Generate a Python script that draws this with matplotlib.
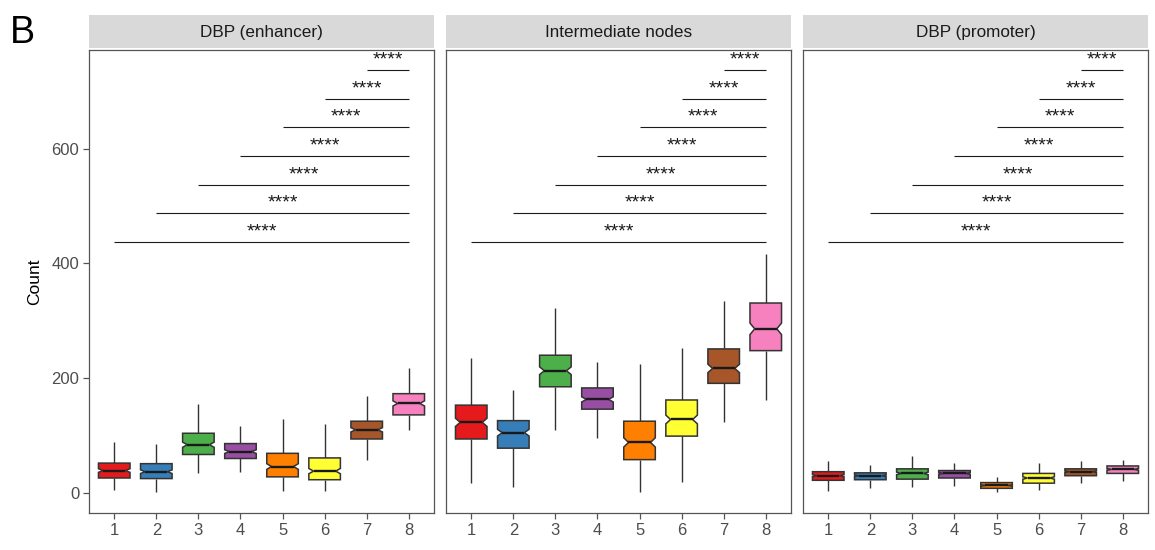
import matplotlib
matplotlib.use("Agg")
import matplotlib.pyplot as plt
from matplotlib.patches import Polygon
import numpy as np

plt.rcParams['font.family'] = ['Liberation Sans', 'DejaVu Sans']

panels = ["DBP (enhancer)", "Intermediate nodes", "DBP (promoter)"]
groups = [1, 2, 3, 4, 5, 6, 7, 8]
colors = ["#E41A1C", "#377EB8", "#4DAF4A", "#984EA3",
          "#FF7F00", "#FFFF33", "#A65628", "#F781BF"]

# whisker low, q1, median, q3, whisker high
enh_wlo = [5, 1, 35, 37, 4, 3, 58, 110]
enh_q1 = [26, 25, 67, 60, 28, 23, 94, 136]
enh_med = [39, 37, 84, 72, 46, 38, 110, 156]
enh_q3 = [52, 51, 104, 86, 69, 61, 125, 173]
enh_whi = [88, 85, 155, 117, 128, 120, 169, 218]

int_wlo = [18, 11, 110, 96, 1, 19, 124, 162]
int_q1 = [94, 78, 185, 146, 58, 99, 191, 248]
int_med = [123, 105, 213, 163, 88, 128, 217, 286]
int_q3 = [153, 126, 240, 183, 125, 162, 251, 331]
int_whi = [235, 180, 322, 228, 225, 253, 335, 416]

pro_wlo = [4, 9, 10, 12, 1, 5, 17, 21]
pro_q1 = [22, 23, 24, 26, 8, 17, 30, 34]
pro_med = [30, 30, 34, 34, 13, 26, 37, 41]
pro_q3 = [37, 35, 42, 39, 18, 34, 42, 47]
pro_whi = [56, 48, 65, 53, 27, 53, 56, 58]

n_per_group = 170  # observations per box (sets notch height)

# comparison brackets: group i vs 8, bracket height
comp_from = [1, 2, 3, 4, 5, 6, 7]
comp_to = [8, 8, 8, 8, 8, 8, 8]
comp_y = [438, 488, 537, 588, 638, 687, 738]
comp_label = ["****"] * 7

panel_data = [
    (enh_wlo, enh_q1, enh_med, enh_q3, enh_whi),
    (int_wlo, int_q1, int_med, int_q3, int_whi),
    (pro_wlo, pro_q1, pro_med, pro_q3, pro_whi),
]

W, H = 1155, 550
fig = plt.figure(figsize=(W / 100, H / 100), dpi=100)

lefts = [89, 446, 803]
pw = 345
ptop, pbot = 50, 513
strip_top = 15

edge = "#333333"
tickc = "#4D4D4D"
box_w = 0.75
indent_frac = 0.15

for k, (name, data) in enumerate(zip(panels, panel_data)):
    wlo, q1, med, q3, whi = data
    ax = fig.add_axes([lefts[k] / W, 1 - pbot / H, pw / W, (pbot - ptop) / H])
    for i, x in enumerate(groups):
        iqr = q3[i] - q1[i]
        half = 1.58 * iqr / np.sqrt(n_per_group)
        nlo, nhi = med[i] - half, med[i] + half
        xl, xr = x - box_w / 2, x + box_w / 2
        ind = indent_frac * box_w
        # whiskers
        ax.plot([x, x], [q3[i], whi[i]], color=edge, lw=1.0, zorder=2, solid_capstyle='butt')
        ax.plot([x, x], [wlo[i], q1[i]], color=edge, lw=1.0, zorder=2, solid_capstyle='butt')
        verts = [(xl, q1[i]), (xl, nlo), (xl + ind, med[i]), (xl, nhi), (xl, q3[i]),
                 (xr, q3[i]), (xr, nhi), (xr - ind, med[i]), (xr, nlo), (xr, q1[i])]
        ax.add_patch(Polygon(verts, closed=True, facecolor=colors[i], edgecolor=edge,
                             lw=1.1, joinstyle='miter', zorder=3))
        ax.plot([xl + ind, xr - ind], [med[i], med[i]], color="#1a1a1a", lw=1.7,
                zorder=4, solid_capstyle='butt')
    for a, b, y, lab in zip(comp_from, comp_to, comp_y, comp_label):
        ax.plot([a, b], [y, y], color="#1a1a1a", linewidth=0.8, solid_capstyle='butt', zorder=3)
        ax.text((a + b) / 2, y + 9.5, lab, ha='center', va='baseline',
                fontsize=14, color="#1a1a1a", clip_on=False, zorder=4)
    ax.set_xlim(0.4, 8.6)
    ax.set_ylim(-35, 772)
    ax.set_xticks(groups)
    ax.set_xticklabels([str(g) for g in groups])
    ax.set_yticks([0, 200, 400, 600])
    for s in ax.spines.values():
        s.set_color("#555555")
        s.set_linewidth(0.9)
    ax.tick_params(axis='both', colors="#555555", length=4, width=0.9,
                   labelsize=12, labelcolor=tickc, pad=3)
    if k > 0:
        ax.tick_params(axis='y', left=False, labelleft=False)
    else:
        ax.set_ylabel("Count", fontsize=12.5, color="black", labelpad=7)
    # strip
    sax = fig.add_axes([lefts[k] / W, 1 - 48 / H, pw / W, (48 - strip_top) / H])
    sax.set_facecolor("#D9D9D9")
    sax.set_xticks([])
    sax.set_yticks([])
    for s in sax.spines.values():
        s.set_visible(False)
    sax.text(0.5, 0.48, name, ha='center', va='center', fontsize=12.3,
             color="#1a1a1a", transform=sax.transAxes)

fig.text(10 / W, 1 - 43 / H, "B", fontsize=27, color="black", ha='left', va='baseline')

fig.savefig("out.png", dpi=100)
